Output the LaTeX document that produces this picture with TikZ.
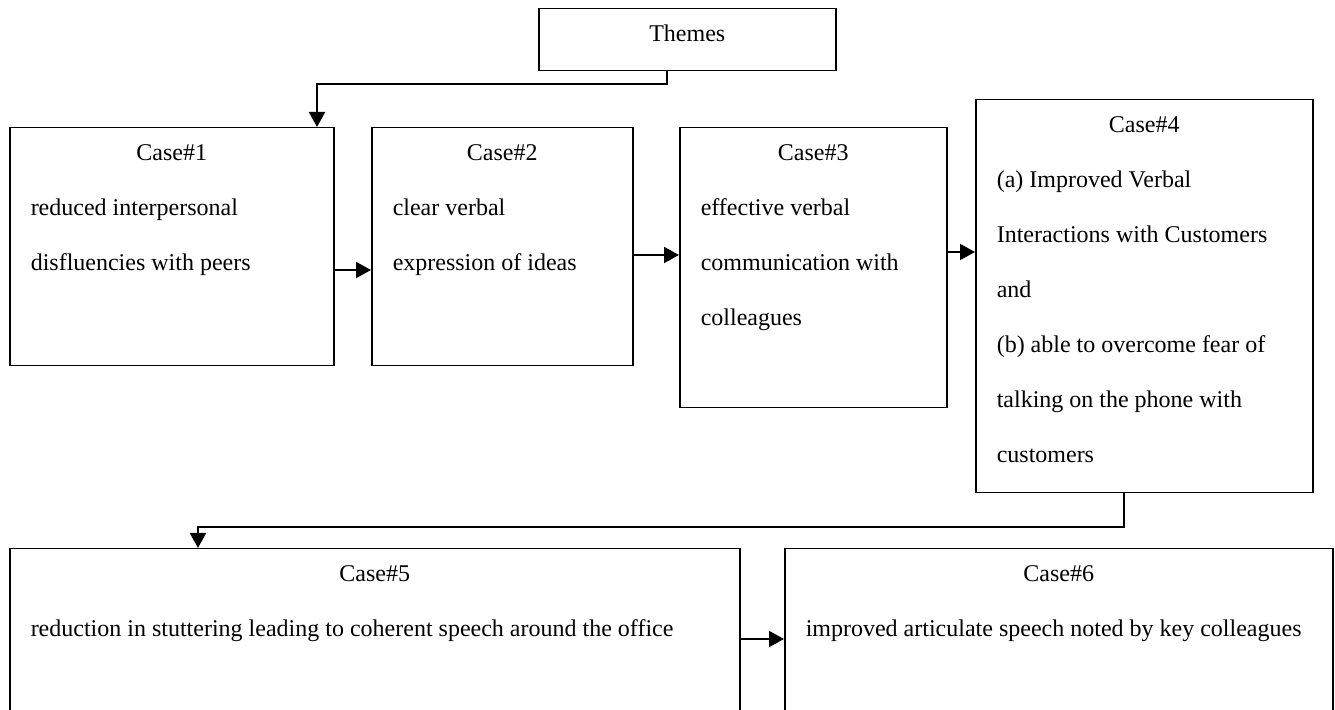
\documentclass[tikz,border=0pt]{standalone}
\usepackage{fontspec}
\setmainfont{Liberation Serif}
\usetikzlibrary{arrows.meta}

% Box contents: width, height, centred title, left-aligned body lines
\newcommand{\casetext}[4]{%
  \parbox[c][#2][t]{#1}{\fontsize{12}{27.5}\selectfont
    \centering\rule{0pt}{16.5pt}#3\par
    \raggedright\leftskip=10.5pt #4\par}}

\tikzset{
  casebox/.style={draw, line width=0.75pt, inner sep=0pt, anchor=north west},
  arr/.style={line width=1pt, -{Triangle[length=7.5pt,width=8pt]}},
  link/.style={line width=1pt}
}

\begin{document}
\begin{tikzpicture}[x=0.5pt, y=-0.5pt]
  \path[use as bounding box, clip] (0,0) rectangle (1335,710);

  % boxes
  \node[casebox] (th) at (538,8)  {\casetext{148.5pt}{31pt}{Themes}{}};
  \node[casebox] (c1) at (9,127)  {\casetext{162pt}{119pt}{Case\#1}{reduced interpersonal\\disfluencies with peers}};
  \node[casebox] (c2) at (371,127) {\casetext{130.5pt}{119pt}{Case\#2}{clear verbal\\expression of ideas}};
  \node[casebox] (c3) at (679,127) {\casetext{133.5pt}{140pt}{Case\#3}{effective verbal\\communication with\\colleagues}};
  \node[casebox] (c4) at (975,99)  {\casetext{168.5pt}{196.5pt}{Case\#4}{(a) Improved Verbal\\Interactions with Customers\\and\\(b) able to overcome fear of\\talking on the phone with\\customers}};
  \node[casebox] (c5) at (9,548)   {\casetext{365pt}{100pt}{Case\#5}{reduction in stuttering leading to coherent speech around the office}};
  \node[casebox] (c6) at (784,548) {\casetext{274pt}{100pt}{Case\#6}{improved articulate speech noted by key colleagues}};

  % elbow connectors
  \coordinate (j1) at (667,84);
  \coordinate (j2) at (317,84);
  \draw[arr] (th.south -| j1) -- (j1) -- (j2) -- (c1.north -| j2);

  \coordinate (j3) at (1124,527);
  \coordinate (j4) at (198,527);
  \draw[arr] (c4.south -| j3) -- (j3) -- (j4) -- (c5.north -| j4);

  % straight connectors
  \coordinate (r1) at (0,270);
  \coordinate (r2) at (0,255);
  \coordinate (r3) at (0,252);
  \coordinate (r4) at (0,639);
  \draw[arr] (c1.east |- r1) -- (c2.west |- r1);
  \draw[arr] (c2.east |- r2) -- (c3.west |- r2);
  \draw[arr] (c3.east |- r3) -- (c4.west |- r3);
  \draw[arr] (c5.east |- r4) -- (c6.west |- r4);
\end{tikzpicture}
\end{document}
